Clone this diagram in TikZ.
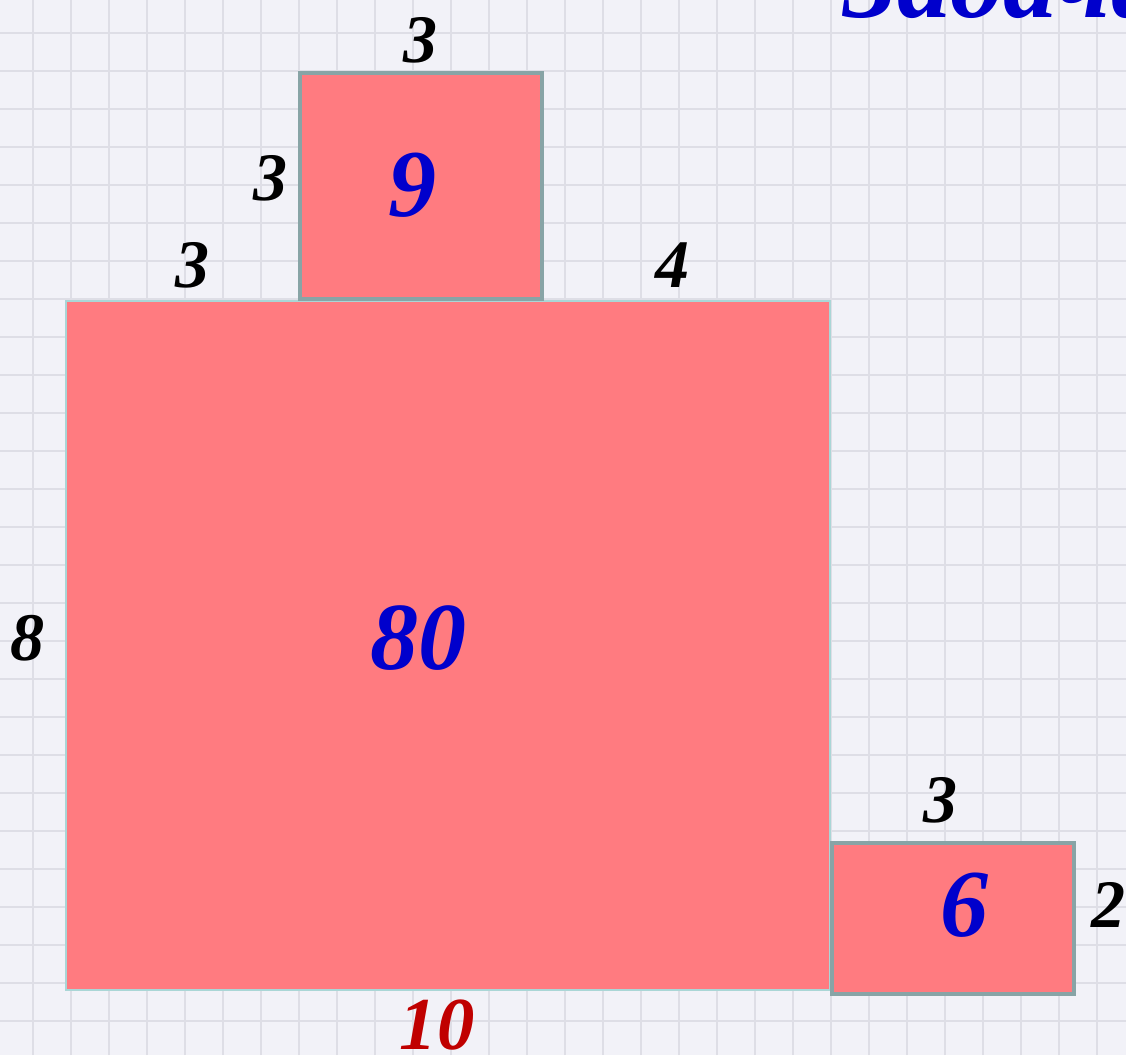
\documentclass[tikz,border=0pt]{standalone}
\usepackage{fontspec}
\setmainfont{Liberation Serif}

\definecolor{paperbg}{RGB}{242,242,248}
\definecolor{paperline}{RGB}{222,222,230}
\definecolor{areafill}{RGB}{255,123,128}
\definecolor{thinedge}{RGB}{170,214,214}
\definecolor{thickedge}{RGB}{136,164,166}
\definecolor{areablue}{RGB}{0,0,204}
\definecolor{sidered}{RGB}{192,0,0}

\begin{document}
\begin{tikzpicture}[x=0.75pt,y=0.75pt]

	% page size in pixels
	\newcommand{\pagew}{1126}
	\newcommand{\pageh}{1055}

	% styles
	\tikzstyle{paper}=[fill=paperbg];
	\tikzstyle{gridline}=[draw=paperline,line width=1.8pt];
	\tikzstyle{bigpiece}=[fill=areafill,draw=thinedge,line width=1pt];
	\tikzstyle{smallpiece}=[fill=areafill,draw=thickedge,line width=3pt];
	\tikzstyle{side}=[inner sep=0pt,text=black,font=\fontsize{51}{51}\selectfont\bfseries\itshape];
	\tikzstyle{area}=[inner sep=0pt,text=areablue,font=\fontsize{72}{72}\selectfont\bfseries\itshape];

	\useasboundingbox (0,0) rectangle (\pagew,\pageh);
	\clip (0,0) rectangle (\pagew,\pageh);

	% squared paper
	\fill[style=paper] (0,0) rectangle (\pagew,\pageh);
	\foreach \gx in {33,71,...,1126}
		\draw[style=gridline] (\gx,0) -- (\gx,\pageh);
	\foreach \gy in {1022,984,...,0}
		\draw[style=gridline] (0,\gy) -- (\pagew,\gy);

	% title, cut at the top edge
	\node[anchor=base west,inner sep=0pt,text=areablue,font=\fontsize{80}{80}\selectfont\bfseries\itshape] (title) at (843,1037) {Задача};

	% the three pieces
	\filldraw[style=bigpiece] (66,65) rectangle (830,754);
	\filldraw[style=smallpiece] (300,756) rectangle (542,982);
	\filldraw[style=smallpiece] (832,61) rectangle (1074,212);

	% side lengths
	\node[style=side] (topw) at (420,1015) {3};
	\node[style=side] (toph) at (270,877) {3};
	\node[style=side] (leftpart) at (192,790) {3};
	\node[style=side] (rightpart) at (672,790) {4};
	\node[style=side] (bigh) at (28,417) {8};
	\node[style=side] (botw) at (940,255) {3};
	\node[style=side] (both) at (1108,150) {2};
	\node[style=side,text=sidered,font=\fontsize{56}{56}\selectfont\bfseries\itshape] (bigw) at (437,30) {10};

	% areas
	\node[style=area] (topsq) at (412,870) {9};
	\node[style=area] (bigsq) at (418,417) {80};
	\node[style=area] (botsq) at (964,150) {6};

\end{tikzpicture}
\end{document}
